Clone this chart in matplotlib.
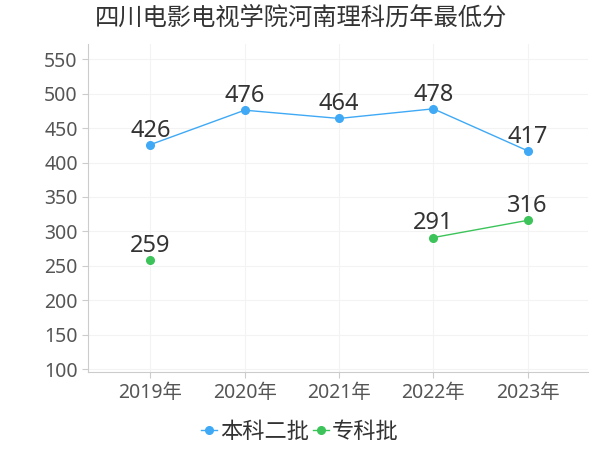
import numpy as np
import matplotlib
matplotlib.use("Agg")
import matplotlib.pyplot as plt

plt.rcParams['font.family'] = ['Noto Sans', 'Noto Sans CJK SC', 'DejaVu Sans']

years = ['2019年', '2020年', '2021年', '2022年', '2023年']
benke2 = [426, 476, 464, 478, 417]
zhuanke = [259, None, None, 291, 316]

fig = plt.figure(figsize=(6, 4.5), dpi=100)
ax = fig.add_axes([0.147, 0.173, 0.833, 0.729])

x = np.arange(len(years))
zk = np.array([np.nan if v is None else v for v in zhuanke], dtype=float)

ax.plot(x, benke2, color='#3fa9f5', lw=1, marker='o', ms=5.5, label='本科二批', zorder=3)
ax.plot(x, zk, color='#3cc45a', lw=1, marker='o', ms=5.5, label='专科批', zorder=3)

for xi, v in zip(x, benke2):
    ax.annotate(str(v), (xi, v), xytext=(0, 1.5), textcoords='offset points',
                ha='center', va='bottom', fontsize=17, color='#333333')
for xi, v in zip(x, zk):
    if not np.isnan(v):
        ax.annotate(str(int(v)), (xi, v), xytext=(0, 1.5), textcoords='offset points',
                    ha='center', va='bottom', fontsize=17, color='#333333')

ax.set_xlim(-0.66, 4.64)
ax.set_ylim(95.5, 572)
ax.set_xticks(x)
ax.set_xticklabels(years)
ax.set_yticks(range(100, 551, 50))
ax.tick_params(axis='both', labelsize=14, colors='#cccccc', labelcolor='#555555', length=4)
ax.grid(True, color='#f3f3f3', lw=0.8)
ax.set_axisbelow(True)
for s in ['top', 'right']:
    ax.spines[s].set_visible(False)
for s in ['left', 'bottom']:
    ax.spines[s].set_color('#cccccc')

fig.text(0.158, 0.958, '四川电影电视学院河南理科历年最低分', fontsize=17.5, color='#333333',
         va='center', ha='left')

fig.legend(loc='center', bbox_to_anchor=(0.5, 0.04), ncol=2, frameon=False,
           fontsize=16, handlelength=0.7, handletextpad=0.15, columnspacing=0.2,
           labelcolor='#333333')

fig.savefig('out.png', dpi=100)
